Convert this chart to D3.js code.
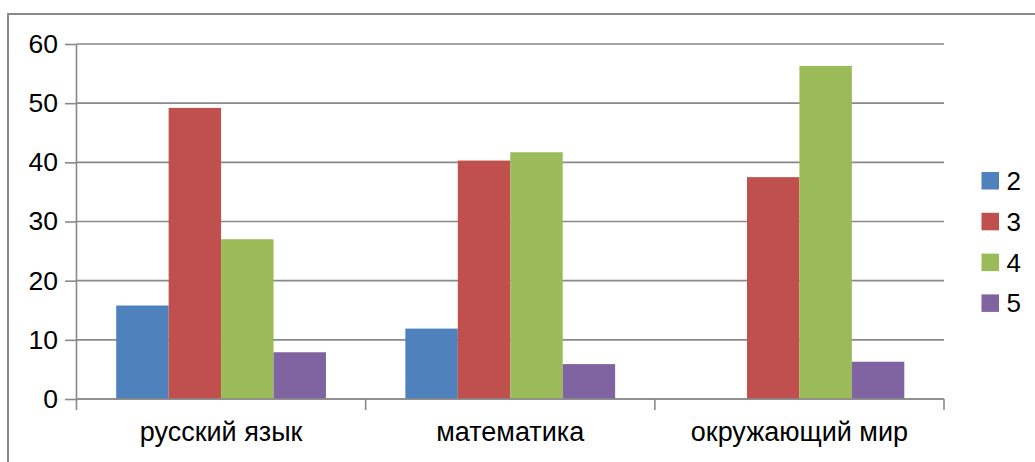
<!DOCTYPE html>
<html>
<head>
<meta charset="utf-8">
<script src="https://cdn.jsdelivr.net/npm/d3@7"></script>
<style>
  html, body { margin: 0; padding: 0; background: #fff; }
  svg { display: block; font-family: "Liberation Sans", Arial, sans-serif; }
</style>
</head>
<body>
<div id="chart"></div>
<script>
// Data
const categories = ["русский язык", "математика", "окружающий мир"];
const seriesNames = ["2", "3", "4", "5"];
const values2 = [15.8, 11.9, 0];
const values3 = [49.2, 40.3, 37.5];
const values4 = [27.0, 41.7, 56.3];
const values5 = [7.9, 5.9, 6.3];
const yTicks = [0, 10, 20, 30, 40, 50, 60];

const seriesValues = [values2, values3, values4, values5];
const COLORS = ["#4f81bd", "#c0504d", "#9bbb59", "#8064a2"];
const GRID = "#898989";
const FONT = "Liberation Sans, Arial, sans-serif";

const width = 1035;
const height = 462;
const margin = { left: 76.5, right: 91, top: 44, bottom: 63 };

const svg = d3.select("#chart")
  .append("svg")
  .attr("width", width)
  .attr("height", height);

// Outer chart border (runs off the right and bottom edges)
svg.append("rect")
  .attr("x", 8)
  .attr("y", 14)
  .attr("width", width + 20)
  .attr("height", height + 20)
  .attr("fill", "none")
  .attr("stroke", GRID)
  .attr("stroke-width", 2);

// Scales
const x0 = d3.scaleBand()
  .domain(categories)
  .range([margin.left, width - margin.right]);

const x1 = d3.scaleBand()
  .domain(seriesNames)
  .range([0, x0.bandwidth()])
  .paddingInner(0)
  .paddingOuter(0.757);

const y = d3.scaleLinear()
  .domain([0, 60])
  .range([height - margin.bottom, margin.top]);

// y axis ticks + labels
const yAxis = svg.append("g")
  .attr("transform", `translate(${margin.left},0)`)
  .call(d3.axisLeft(y)
    .tickValues(yTicks)
    .tickSize(11.5)
    .tickPadding(7));
yAxis.select(".domain").remove();
yAxis.selectAll(".tick line").attr("stroke", GRID).attr("stroke-width", 1.6);
yAxis.selectAll(".tick text")
  .attr("fill", "#000")
  .attr("font-size", "26.5px")
  .attr("font-family", FONT);

// gridlines
svg.append("g")
  .selectAll("line")
  .data(yTicks)
  .join("line")
  .attr("x1", margin.left)
  .attr("x2", width - margin.right)
  .attr("y1", d => y(d))
  .attr("y2", d => y(d))
  .attr("stroke", GRID)
  .attr("stroke-width", 1.6);

// Bars
const groups = svg.append("g")
  .selectAll("g")
  .data(categories)
  .join("g")
  .attr("transform", d => `translate(${x0(d)},0)`);

groups.selectAll("rect")
  .data((d, i) => seriesNames.map((s, j) => ({ s, j, v: seriesValues[j][i] })))
  .join("rect")
  .attr("x", d => x1(d.s))
  .attr("width", x1.bandwidth())
  .attr("y", d => y(d.v))
  .attr("height", d => y(0) - y(d.v))
  .attr("fill", d => COLORS[d.j]);

// Y axis line
svg.append("line")
  .attr("x1", margin.left)
  .attr("x2", margin.left)
  .attr("y1", margin.top)
  .attr("y2", y(0) + 11)
  .attr("stroke", GRID)
  .attr("stroke-width", 1.6);

// X axis, labels centred in bands
const xAxis = svg.append("g")
  .attr("transform", `translate(0,${y(0)})`)
  .call(d3.axisBottom(x0).tickSize(0).tickPadding(23));
xAxis.select(".domain").remove();
xAxis.selectAll(".tick text")
  .attr("fill", "#000")
  .attr("font-size", "27px")
  .attr("font-family", FONT);

svg.append("line")
  .attr("x1", margin.left)
  .attr("x2", width - margin.right)
  .attr("y1", y(0))
  .attr("y2", y(0))
  .attr("stroke", GRID)
  .attr("stroke-width", 1.6);

// category ticks on band edges
svg.append("g")
  .selectAll("line")
  .data(categories.slice(1).map(c => x0(c)).concat([x0.range()[1]]))
  .join("line")
  .attr("x1", d => d)
  .attr("x2", d => d)
  .attr("y1", y(0))
  .attr("y2", y(0) + 11)
  .attr("stroke", GRID)
  .attr("stroke-width", 1.6);

// Legend
const legend = svg.append("g")
  .attr("transform", "translate(981.5,172)");

legend.selectAll("rect")
  .data(seriesNames)
  .join("rect")
  .attr("x", 0)
  .attr("y", (_, i) => i * 40.8)
  .attr("width", 17.5)
  .attr("height", 17.5)
  .attr("fill", (_, i) => COLORS[i]);

legend.selectAll("text")
  .data(seriesNames)
  .join("text")
  .attr("x", 25)
  .attr("y", (_, i) => i * 40.8 + 18)
  .attr("font-size", "26px")
  .attr("fill", "#000")
  .text(d => d);
</script>
</body>
</html>
